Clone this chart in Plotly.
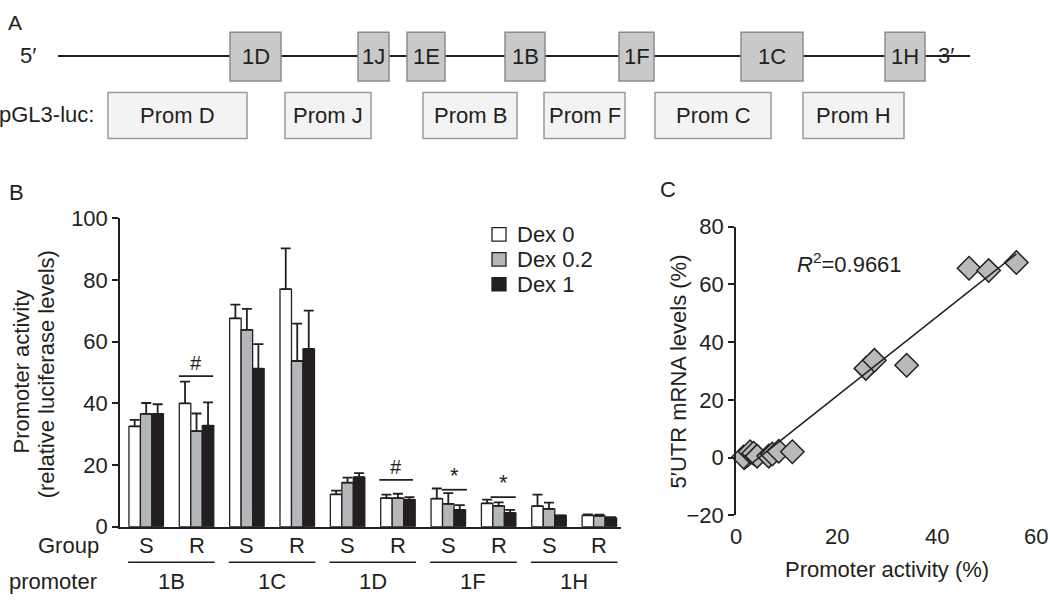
import numpy as np
import plotly.graph_objects as go

W, H = 1050, 604
FONT = "Liberation Sans, Arial, Helvetica, sans-serif"
INK = "#231f20"
FS = 22

# ---------------- Panel A: gene schematic ----------------
exon_names = ["1D", "1J", "1E", "1B", "1F", "1C", "1H"]
exon_x0 = [230, 358, 407, 505, 619, 741, 885]
exon_x1 = [281, 389, 445, 545, 654, 803, 925]
prom_names = ["Prom D", "Prom J", "Prom B", "Prom F", "Prom C", "Prom H"]
prom_x0 = [108, 285, 423, 544, 655, 803]
prom_x1 = [247, 371, 517, 625, 771, 904]
gene_start, gene_end = 58, 970

# ---------------- Panel B: promoter activity ----------------
groups = ["S", "R", "S", "R", "S", "R", "S", "R", "S", "R"]
promoters = ["1B", "1C", "1D", "1F", "1H"]
dex_names = ["Dex 0", "Dex 0.2", "Dex 1"]
dex0 = [32.5, 40.0, 67.5, 77.0, 10.5, 9.3, 9.1, 7.6, 6.7, 3.7]
dex02 = [36.6, 31.0, 63.8, 53.7, 14.3, 9.3, 7.4, 6.8, 5.8, 3.5]
dex1 = [36.6, 32.8, 51.2, 57.6, 16.1, 8.8, 5.5, 4.5, 3.7, 2.9]
err0 = [2.1, 7.0, 4.5, 13.2, 1.2, 1.1, 3.3, 1.2, 3.7, 0.3]
err02 = [3.5, 5.7, 6.8, 12.1, 1.6, 1.4, 3.5, 1.1, 2.0, 0.4]
err1 = [3.1, 7.5, 8.0, 12.4, 1.3, 0.8, 1.5, 1.0, 0.0, 0.2]
b_yticks = [0, 20, 40, 60, 80, 100]
# significance marks: (x0, x1, y, label) in category units / activity units
sig_x0 = [0.65, 4.63, 5.87, 6.84]
sig_x1 = [1.33, 5.30, 6.37, 7.34]
sig_y = [48.8, 15.2, 12.0, 9.6]
sig_label = ["#", "#", "*", "*"]

# ---------------- Panel C: correlation ----------------
activity = [1.5, 2.8, 3.5, 4.2, 6.5, 7.2, 8.5, 11.2, 25.8, 27.5, 33.9, 46.3, 50.2, 55.7]
mrna = [0.2, 2.0, 1.5, 0.5, 0.5, 1.2, 2.2, 2.0, 30.9, 33.7, 32.0, 65.6, 64.8, 67.6]
c_xticks = [0, 20, 40, 60]
c_yticks = [-20, 0, 20, 40, 60, 80]
r2_text = "0.9661"


def px(x):
    return x / W


def py(y):
    return 1 - y / H


fig = go.Figure()

# Panel B bars
bar_fill = ["#ffffff", "#b4b6b9", INK]
pos = list(range(len(groups)))
for name, vals, errs, col in zip(dex_names, [dex0, dex02, dex1], [err0, err02, err1], bar_fill):
    fig.add_trace(go.Bar(
        x=pos, y=vals, name=name, xaxis="x", yaxis="y", showlegend=False,
        marker=dict(color=col, line=dict(color=INK, width=1.3)),
        error_y=dict(type="data", symmetric=False, array=errs, arrayminus=[0] * len(errs),
                     color=INK, thickness=1.8, width=5),
    ))

# Panel C scatter + fit
slope, intercept = np.polyfit(activity, mrna, 1)
xfit = np.array([min(activity), max(activity)])
fig.add_trace(go.Scatter(
    x=activity, y=mrna, mode="markers", xaxis="x4", yaxis="y4", showlegend=False,
    marker=dict(symbol="diamond", size=18, color="#b9b9b9", line=dict(color=INK, width=1.5)),
    cliponaxis=False,
))
fig.add_trace(go.Scatter(
    x=xfit, y=slope * xfit + intercept, mode="lines", xaxis="x4", yaxis="y4",
    showlegend=False, line=dict(color=INK, width=1.5),
))

shapes = []
annotations = []


def ann(text, x, y, xref="paper", yref="paper", size=FS, xanchor="center", yanchor="middle", **kw):
    annotations.append(dict(text=text, x=x, y=y, xref=xref, yref=yref, showarrow=False,
                            xanchor=xanchor, yanchor=yanchor,
                            font=dict(family=FONT, size=size, color=INK), **kw))


# Panel A drawing
shapes.append(dict(type="line", xref="x3", yref="y3", x0=gene_start, x1=gene_end, y0=46, y1=46,
                   line=dict(color=INK, width=2), layer="below"))
for n, a, b in zip(exon_names, exon_x0, exon_x1):
    shapes.append(dict(type="rect", xref="x3", yref="y3", x0=a, x1=b, y0=21, y1=72,
                       fillcolor="#c9c9c9", line=dict(color="#8c8c8c", width=1.5)))
    ann(n, (a + b) / 2, 46, "x3", "y3", size=22)
for n, a, b in zip(prom_names, prom_x0, prom_x1):
    shapes.append(dict(type="rect", xref="x3", yref="y3", x0=a, x1=b, y0=84, y1=132,
                       fillcolor="#f3f3f3", line=dict(color="#9a9a9a", width=1.5)))
    ann(n, (a + b) / 2, 108, "x3", "y3", size=22)
ann("A", 15, 11, "x3", "y3", size=21)
ann("5′", 28, 45, "x3", "y3", size=22)
ann("3′", 946, 45, "x3", "y3", size=22)
ann("pGL3-luc:", 96, 107, "x3", "y3", size=22, xanchor="right")

# Panel B text
ann("B", px(16), py(188))
ann("Promoter activity", px(21), py(375), textangle=-90)
ann("(relative luciferase levels)", px(46), py(378), textangle=-90)
ann("Group", px(101), py(557), xanchor="right")
ann("promoter", px(99), py(594), xanchor="right")
for i, g in enumerate(groups):
    ann(g, i, py(557), "x", "paper")
for k, p in enumerate(promoters):
    c = 2 * k + 0.5
    ann(p, c, py(594), "x", "paper")
    shapes.append(dict(type="line", xref="x", yref="paper", x0=c - 0.86, x1=c + 0.86,
                       y0=py(574), y1=py(574), line=dict(color=INK, width=1.5)))
for a, b, y, lab in zip(sig_x0, sig_x1, sig_y, sig_label):
    shapes.append(dict(type="line", xref="x", yref="y", x0=a, x1=b, y0=y, y1=y,
                       line=dict(color=INK, width=1.8)))
    ann(lab, (a + b) / 2, y, "x", "y", size=20 if lab == "#" else 22, yanchor="bottom")

# Panel B legend (manual, to match the tight row spacing)
for k, (name, col) in enumerate(zip(dex_names, bar_fill)):
    yc = 232 + 26 * k
    shapes.append(dict(type="rect", xref="paper", yref="paper",
                       x0=px(492), x1=px(506), y0=py(yc - 7), y1=py(yc + 7),
                       fillcolor=col, line=dict(color=INK, width=1.3)))
    ann(name, px(515), py(yc), xanchor="left")

# Panel C text
ann("C", px(668), py(185))
ann("5′UTR mRNA levels (%)", px(678), py(375), textangle=-90)
ann("Promoter activity (%)", px(887), py(582))
ann("<i>R</i><sup>2</sup>=" + r2_text, px(795), py(262), xanchor="left")
# x tick labels of panel C, placed at the bottom of the plot (below the -20 level)
for v in c_xticks[:-1]:
    ann(str(v), v, py(547), "x4", "paper")
# the last one sits at the page edge (clipped in the original); keep it inside the page
ann(str(c_xticks[-1]), 1.0, py(547), xanchor="right")

axis_common = dict(showgrid=False, zeroline=False, linecolor=INK, linewidth=1.5,
                   tickcolor=INK, tickwidth=1.5,
                   tickfont=dict(family=FONT, size=FS, color=INK))

zero_c = py(525) + (0 - (-20)) / 100 * (py(224) - py(525))

fig.update_layout(
    width=W, height=H,
    margin=dict(l=0, r=0, t=0, b=0),
    paper_bgcolor="white", plot_bgcolor="rgba(0,0,0,0)",
    barmode="group", bargap=0.315, bargroupgap=0,
    showlegend=False,
    xaxis=dict(domain=[px(120), px(621)], range=[-0.52, 9.43], anchor="y",
               showline=True, ticks="", showticklabels=False, **axis_common),
    yaxis=dict(domain=[py(537), py(215)], range=[0, 100], anchor="x",
               showline=True, ticks="outside", ticklen=6,
               tickvals=b_yticks, **axis_common),
    xaxis3=dict(domain=[0, 1], range=[0, W], anchor="y3", visible=False),
    yaxis3=dict(domain=[py(150), 1], range=[150, 0], anchor="x3", visible=False),
    xaxis4=dict(domain=[px(736), px(1038)], range=[0, 60], anchor="y4",
                showline=False, ticks="", showticklabels=False,
                showgrid=False, zeroline=False),
    xaxis5=dict(domain=[px(736), px(1038)], range=[0, 60], overlaying="x4",
                anchor="free", position=zero_c, side="bottom",
                showline=True, ticks="outside", ticklen=6, tickvals=c_xticks[1:],
                showticklabels=False,
                showgrid=False, zeroline=False, linecolor=INK, linewidth=1.5,
                tickcolor=INK, tickwidth=1.5),
    yaxis4=dict(domain=[py(525), py(224)], range=[-20, 80], anchor="x4",
                showline=True, ticks="outside", ticklen=6,
                tickvals=c_yticks, **axis_common),
    shapes=shapes,
    annotations=annotations,
)

fig.write_html("out.html", config={"displayModeBar": False},
               post_script="document.body.style.margin='0';")
